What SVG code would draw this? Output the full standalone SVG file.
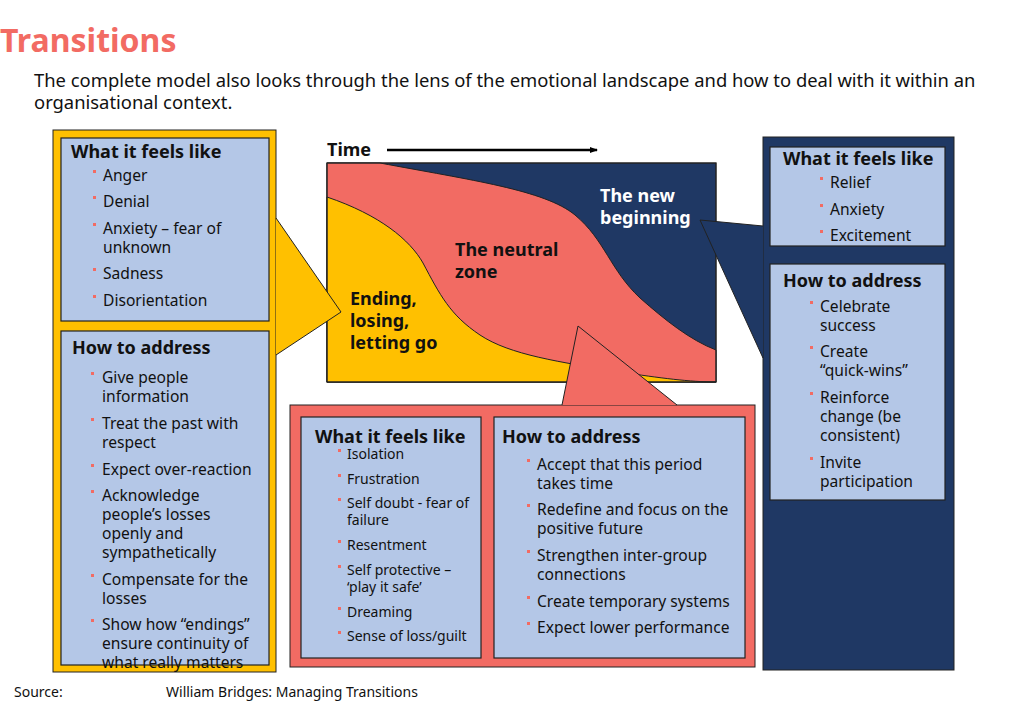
<svg xmlns="http://www.w3.org/2000/svg" width="1024" height="708" viewBox="0 0 1024 708">
<style>
text{font-family:"Noto Sans","Open Sans","DejaVu Sans",sans-serif;fill:#111}
.h{font-weight:bold;font-size:18px}
.b{font-size:15.6px}
.s{font-size:14px}
.bu{fill:#F26B63}
.box{fill:#B4C7E7;stroke:#222;stroke-width:1.2}
.w{fill:#fff;font-weight:bold;font-size:18px}
.k{font-weight:bold;font-size:18px}
</style>
<defs><marker id="ar" markerWidth="8" markerHeight="6" refX="7" refY="3" orient="auto" markerUnits="userSpaceOnUse"><path d="M0,0L8,3L0,6z" fill="#000"/></marker></defs>
<rect width="1024" height="708" fill="#fff"/>
<text x="0" y="52" style="font-size:32px;font-weight:bold;fill:#F26B63">Transitions</text>
<text x="34" y="87" style="font-size:18.4px">The complete model also looks through the lens of the emotional landscape and how to deal with it within an</text>
<text x="34" y="109" style="font-size:18.4px">organisational context.</text>

<g id="chart">
<rect x="327" y="163" width="389" height="219" fill="#1F3864" stroke="#222"/>
<path d="M327,163 L380,163 C470,180 545,190 575,215 C605,240 610,270 640,298 C665,320 690,340 716,350 L716,382 L327,382 Z" fill="#F26B63" stroke="#222"/>
<path d="M327,197 C380,215 410,240 423,263 C440,295 450,315 480,335 C510,355 560,362 620,372 C660,378 690,382 716,382 L327,382 Z" fill="#FFC000" stroke="#222"/>
<rect x="327" y="163" width="389" height="219" fill="none" stroke="#222"/>
<text x="600" y="202" class="w">The new</text>
<text x="600" y="224" class="w">beginning</text>
<text x="455" y="256" class="k">The neutral</text>
<text x="455" y="278" class="k">zone</text>
<text x="350" y="305" class="k">Ending,</text>
<text x="350" y="327" class="k">losing,</text>
<text x="350" y="349" class="k">letting go</text>
<text x="327" y="156" class="k">Time</text>
</g>
<g id="connectors">
<line x1="387" y1="150" x2="597" y2="150" stroke="#000" stroke-width="2.5" marker-end="url(#ar)"/>
</g>

<g id="left">
<rect x="53" y="130" width="223" height="542" fill="#FFC000" stroke="#222"/>
<path d="M276,218 L341,312 L276,355 Z" fill="#FFC000"/>
<path d="M276,218 L341,312 L276,355" fill="none" stroke="#222"/>
<rect x="61" y="138" width="208" height="183" class="box"/>
<text x="71" y="158" class="h">What it feels like</text>
<g class="bu"><rect x="93" y="170" width="3" height="3"/><rect x="93" y="196" width="3" height="3"/><rect x="93" y="223" width="3" height="3"/><rect x="93" y="268" width="3" height="3"/><rect x="93" y="295" width="3" height="3"/></g>
<g class="b"><text x="103" y="181">Anger</text>
<text x="103" y="207">Denial</text>
<text x="103" y="234">Anxiety – fear of</text><text x="103" y="253">unknown</text>
<text x="103" y="279">Sadness</text>
<text x="103" y="306">Disorientation</text></g>
<rect x="61" y="331" width="208" height="334" class="box"/>
<text x="72" y="354" class="h">How to address</text>
<g class="bu"><rect x="91" y="372" width="3" height="3"/><rect x="91" y="418" width="3" height="3"/><rect x="91" y="464" width="3" height="3"/><rect x="91" y="490" width="3" height="3"/><rect x="91" y="574" width="3" height="3"/><rect x="91" y="619" width="3" height="3"/></g>
<g class="b"><text x="102" y="383">Give people</text><text x="102" y="402">information</text>
<text x="102" y="429">Treat the past with</text><text x="102" y="448">respect</text>
<text x="102" y="475">Expect over-reaction</text>
<text x="102" y="501">Acknowledge</text><text x="102" y="520">people’s losses</text><text x="102" y="539">openly and</text><text x="102" y="558">sympathetically</text>
<text x="102" y="585">Compensate for the</text><text x="102" y="604">losses</text>
<text x="102" y="630">Show how “endings”</text><text x="102" y="649">ensure continuity of</text><text x="102" y="668">what really matters</text></g>
</g>

<g id="middle">
<rect x="290" y="405" width="465" height="262" fill="#F26B63" stroke="#222"/>
<path d="M562,405 L578,326 L677,405 Z" fill="#F26B63"/>
<path d="M562,405 L578,326 L677,405" fill="none" stroke="#222"/>
<rect x="301" y="417" width="180" height="241" class="box"/>
<text x="315" y="443" class="h">What it feels like</text>
<g class="bu"><rect x="338" y="449" width="3" height="3"/><rect x="338" y="474" width="3" height="3"/><rect x="338" y="498" width="3" height="3"/><rect x="338" y="540" width="3" height="3"/><rect x="338" y="565" width="3" height="3"/><rect x="338" y="607" width="3" height="3"/><rect x="338" y="631" width="3" height="3"/></g>
<g class="s"><text x="347" y="459">Isolation</text>
<text x="347" y="484">Frustration</text>
<text x="347" y="508">Self doubt - fear of</text><text x="347" y="525">failure</text>
<text x="347" y="550">Resentment</text>
<text x="347" y="575">Self protective –</text><text x="347" y="592">‘play it safe’</text>
<text x="347" y="617">Dreaming</text>
<text x="347" y="641">Sense of loss/guilt</text></g>
<rect x="494" y="417" width="251" height="241" class="box"/>
<text x="502" y="443" class="h">How to address</text>
<g class="bu"><rect x="527" y="459" width="3" height="3"/><rect x="527" y="504" width="3" height="3"/><rect x="527" y="550" width="3" height="3"/><rect x="527" y="596" width="3" height="3"/><rect x="527" y="622" width="3" height="3"/></g>
<g class="b"><text x="537" y="470">Accept that this period</text><text x="537" y="489">takes time</text>
<text x="537" y="515">Redefine and focus on the</text><text x="537" y="534">positive future</text>
<text x="537" y="561">Strengthen inter-group</text><text x="537" y="580">connections</text>
<text x="537" y="607">Create temporary systems</text>
<text x="537" y="633">Expect lower performance</text></g>
</g>

<g id="right">
<rect x="763" y="137" width="191" height="533" fill="#1F3864" stroke="#222"/>
<path d="M763,226 L700,220 L763,358 Z" fill="#1F3864"/>
<path d="M763,226 L700,220 L763,358" fill="none" stroke="#222"/>
<rect x="770" y="147" width="175" height="99" class="box"/>
<text x="783" y="165" class="h">What it feels like</text>
<g class="bu"><rect x="820" y="177" width="3" height="3"/><rect x="820" y="204" width="3" height="3"/><rect x="820" y="230" width="3" height="3"/></g>
<g class="b"><text x="830" y="188">Relief</text>
<text x="830" y="215">Anxiety</text>
<text x="830" y="241">Excitement</text></g>
<rect x="770" y="264" width="175" height="236" class="box"/>
<text x="783" y="287" class="h">How to address</text>
<g class="bu"><rect x="810" y="301" width="3" height="3"/><rect x="810" y="346" width="3" height="3"/><rect x="810" y="392" width="3" height="3"/><rect x="810" y="457" width="3" height="3"/></g>
<g class="b"><text x="820" y="312">Celebrate</text><text x="820" y="331">success</text>
<text x="820" y="357">Create</text><text x="820" y="376">“quick-wins”</text>
<text x="820" y="403">Reinforce</text><text x="820" y="422">change (be</text><text x="820" y="441">consistent)</text>
<text x="820" y="468">Invite</text><text x="820" y="487">participation</text></g>
</g>

<text x="14" y="697" style="font-size:14px">Source:</text>
<text x="166" y="697" style="font-size:14px">William Bridges:  Managing Transitions</text>
</svg>
